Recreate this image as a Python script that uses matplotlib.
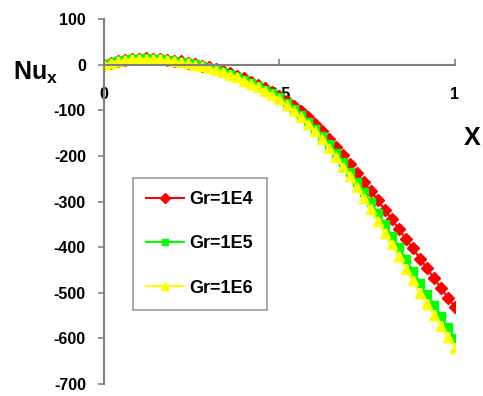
import matplotlib
matplotlib.use("Agg")
import matplotlib.pyplot as plt

plt.rcParams['font.family'] = ['Liberation Sans', 'DejaVu Sans']
plt.rcParams['mathtext.fontset'] = 'custom'
plt.rcParams['mathtext.rm'] = 'Liberation Sans:bold'
plt.rcParams['mathtext.bf'] = 'Liberation Sans:bold'
plt.rcParams['axes.unicode_minus'] = False

# X positions (step 0.02)
x = [i / 50 for i in range(51)]

nu_1e4 = [0, 4, 7.5, 10, 12, 13, 13.5, 13, 12, 10.5,
          9, 7, 4.5, 1.5, -2, -5, -9, -14, -19, -24,
          -30, -37, -44, -51, -59, -68, -79, -90, -102, -115,
          -130, -146, -163, -180, -199, -218, -237, -257, -277, -297,
          -318, -339, -360, -382, -403, -425, -446, -468, -489, -511,
          -532]
nu_1e5 = [0, 4, 7.5, 10, 12, 13, 13.5, 13, 12, 10.5,
          8.5, 6, 3.5, 0.5, -3, -7, -11, -16, -21, -27,
          -33, -40, -47, -55, -63, -72, -84, -97, -110, -125,
          -140, -157, -175, -194, -214, -235, -257, -279, -302, -326,
          -350, -375, -400, -426, -452, -478, -503, -527, -552, -576,
          -600]
nu_1e6 = [0, 4, 7.5, 10, 12, 13, 13, 12.5, 11.5, 10,
          8, 5.5, 2.5, -0.5, -4, -8, -12, -17, -22, -28,
          -35, -42, -49, -57, -66, -76, -88, -101, -115, -130,
          -146, -164, -183, -203, -224, -245, -268, -292, -317, -342,
          -368, -394, -420, -447, -473, -500, -525, -549, -573, -598,
          -622]

labels = ['Gr=1E4', 'Gr=1E5', 'Gr=1E6']
yticks = [100, 0, -100, -200, -300, -400, -500, -600, -700]
xticks = [0, 0.5, 1]

fig = plt.figure(figsize=(4.83, 3.96), dpi=100)
ax = fig.add_axes([0.2153, 0.0303, 0.7267, 0.9217])

ax.plot(x, nu_1e4, color='#ff0000', marker='D', markersize=6.5, lw=1.5, label=labels[0])
ax.plot(x, nu_1e5, color='#00ff00', marker='s', markersize=5.5, lw=1.5, label=labels[1])
ax.plot(x, nu_1e6, color='#ffff00', marker='^', markersize=7, lw=1.5, label=labels[2])

ax.set_xlim(0, 1)
ax.set_ylim(-700, 100)
ax.spines['right'].set_visible(False)
ax.spines['top'].set_visible(False)
ax.spines['bottom'].set_position(('data', 0))
for s in ['left', 'bottom']:
    ax.spines[s].set_color('#808080')
    ax.spines[s].set_linewidth(1.5)

ax.set_yticks(yticks)
ax.set_xticks(xticks)
ax.set_xticklabels(['0', '0.5', '1'])
ax.tick_params(axis='y', direction='out', length=4.5, width=1.2, color='#808080',
               labelsize=11.5, pad=8.5)
ax.tick_params(axis='x', direction='in', length=4.5, width=1.2, color='#808080',
               labelsize=11.5, pad=16)
for t in ax.get_xticklabels() + ax.get_yticklabels():
    t.set_fontweight('bold')

fig.text(0.026, 0.815, r'$\mathrm{Nu_x}$', fontsize=18, va='center', ha='left')
fig.text(0.977, 0.652, 'X', fontsize=18, fontweight='bold', va='center', ha='center')

leg = ax.legend(loc='upper left', bbox_to_anchor=(0.275, 0.551),
                bbox_transform=fig.transFigure, frameon=True, fancybox=False,
                labelspacing=1.5, handlelength=2.1, handletextpad=0.3,
                borderpad=0.75, borderaxespad=0, markerscale=0.75,
                prop={'weight': 'bold', 'size': 13})
leg.get_frame().set_edgecolor('#808080')
leg.get_frame().set_linewidth(1.2)

fig.savefig('out.png', dpi=100)
